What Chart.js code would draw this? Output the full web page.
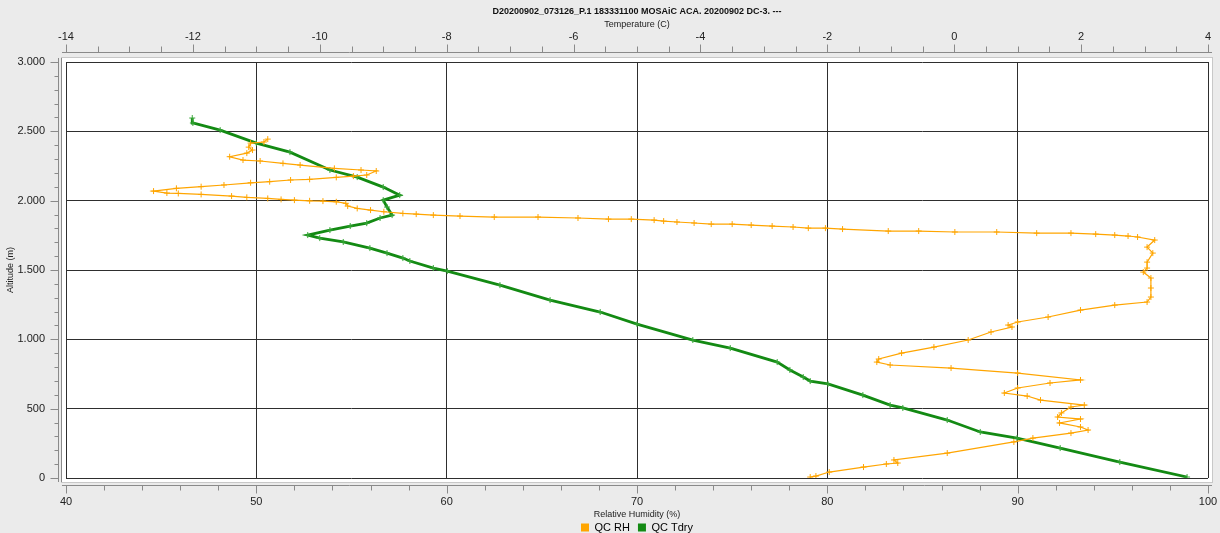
<!DOCTYPE html>
<html>
<head>
<meta charset="utf-8">
<script src="https://cdn.jsdelivr.net/npm/chart.js@4.4.1/dist/chart.umd.min.js"></script>
<style>
  html, body { margin: 0; padding: 0; background: #ebebeb; overflow: hidden; }
  #wrap { width: 1220px; height: 533px; overflow: hidden; }
  canvas { display: block; }
</style>
</head>
<body>
<div id="wrap"><canvas id="sounding" width="1220" height="543"></canvas></div>
<script>
// Dropsonde profile: relative humidity and dry-bulb temperature versus altitude
const chartTitle = 'D20200902_073126_P.1 183331100 MOSAiC ACA. 20200902 DC-3. ---';
const seriesNames = ['QC RH', 'QC Tdry'];

// Altitude ticks (m), relative humidity ticks (%), temperature ticks (C)
const altitudeTicks = [0, 500, 1000, 1500, 2000, 2500, 3000];
const humidityTicks = [40, 50, 60, 70, 80, 90, 100];
const temperatureTicks = [-14, -12, -10, -8, -6, -4, -2, 0, 2, 4];

// QC RH: altitude (m) and relative humidity (%)
const rhAltitude = [
  7, 14, 43, 79, 101, 108, 130, 180, 260, 288, 324, 346, 368, 397, 425, 440, 469, 512, 526, 562,
  591, 613, 649, 685, 707, 757, 793, 815, 836, 858, 901, 944, 995, 1053, 1089, 1103, 1125, 1161, 1211, 1247,
  1269, 1305, 1370, 1442, 1485, 1514, 1557, 1622, 1665, 1716, 1738, 1745, 1752, 1759, 1766, 1766, 1774, 1774, 1781, 1781,
  1795, 1802, 1802, 1810, 1817, 1824, 1831, 1831, 1839, 1846, 1853, 1860, 1867, 1867, 1875, 1882, 1882, 1889, 1896, 1903,
  1908, 1920, 1932, 1944, 1961, 1981, 1992, 1997, 1999, 2004, 2009, 2016, 2024, 2033, 2045, 2052, 2055, 2069, 2089, 2101,
  2113, 2129, 2137, 2149, 2154, 2168, 2177, 2185, 2214, 2221, 2233, 2257, 2269, 2286, 2293, 2317, 2343, 2365, 2386, 2415,
  2423, 2444
];
const rhPercent = [
  79.1, 79.4, 80.1, 81.9, 83.1, 83.7, 83.5, 86.3, 89.8, 90.8, 92.8, 93.7, 93.3, 92.2, 93.3, 92.1, 92.3, 92.8, 93.5, 91.2,
  90.5, 89.3, 90.0, 91.7, 93.3, 90.0, 86.5, 83.3, 82.6, 82.7, 83.9, 85.6, 87.4, 88.6, 89.7, 89.5, 90.0, 91.6, 93.3, 95.1,
  96.8, 97.0, 97.0, 97.0, 96.6, 96.8, 96.8, 97.1, 96.8, 97.2, 96.3, 95.8, 95.1, 94.1, 92.8, 91.0, 88.9, 86.7, 84.8, 83.2,
  80.8, 79.9, 79.0, 78.2, 77.1, 76.0, 75.0, 73.9, 73.0, 72.1, 71.4, 70.9, 69.7, 68.5, 66.9, 64.8, 62.5, 60.7, 59.3, 58.4,
  57.7, 56.7, 56.0, 55.3, 54.8, 54.7, 54.2, 53.5, 52.8, 52.0, 51.3, 50.6, 49.5, 48.7, 47.1, 45.9, 45.3, 44.6, 45.8, 47.1,
  48.3, 49.7, 50.7, 51.8, 52.8, 54.2, 55.1, 55.8, 56.3, 55.5, 54.1, 52.3, 51.4, 50.2, 49.3, 48.6, 49.5, 49.8, 49.6, 49.7,
  50.4, 50.6
];

// QC Tdry: altitude (m) and temperature (C)
const tdryAltitude = [
  7, 115, 216, 288, 332, 418, 505, 526, 598, 678, 699, 728, 779, 836, 937, 995, 1110, 1197, 1283, 1391,
  1492, 1514, 1565, 1586, 1622, 1658, 1702, 1730, 1752, 1788, 1817, 1838, 1875, 1896, 1954, 2004, 2040, 2098, 2170, 2221,
  2350, 2415, 2509, 2560, 2596
];
const tdryCelsius = [
  3.67, 2.61, 1.67, 0.99, 0.41, -0.11, -0.81, -1.01, -1.44, -1.99, -2.27, -2.38, -2.59, -2.79, -3.53, -4.12, -5.00, -5.58, -6.37, -7.16,
  -7.99, -8.21, -8.58, -8.69, -8.94, -9.21, -9.63, -10.00, -10.19, -9.84, -9.52, -9.26, -9.05, -8.86, -8.94, -9.00, -8.74, -9.00, -9.41, -9.84,
  -10.47, -11.00, -11.57, -12.00, -12.01
];

const rhColor = '#ffa500';
const tdryColor = '#138a13';
const gridColor = '#2e2e2e';
const textColor = '#222222';
const fontFamily = '"Liberation Sans", Arial, Helvetica, sans-serif';

const toPoints = (xs, ys) => xs.map((x, i) => ({ x: x, y: ys[i] }));
const groupThousands = v => String(v).replace(/\B(?=(\d{3})+(?!\d))/g, '.');
const fixTicks = list => scale => { scale.ticks = list.map(v => ({ value: v })); };

// Gray page, white plotting panel and the detached tick strips around it
const axisStrips = {
  id: 'axisStrips',
  beforeDraw(chart) {
    const { ctx, chartArea: a } = chart;
    ctx.save();
    ctx.fillStyle = '#ebebeb';
    ctx.fillRect(0, 0, chart.width, chart.height);
    ctx.fillStyle = '#ffffff';
    ctx.fillRect(a.left - 4, a.top - 4, a.right - a.left + 8, a.bottom - a.top + 8);
    ctx.strokeStyle = '#c8c8c8';
    ctx.lineWidth = 1;
    ctx.strokeRect(a.left - 4.5, a.top - 4.5, a.right - a.left + 9, a.bottom - a.top + 9);
    ctx.restore();
  },
  afterDraw(chart) {
    const { ctx, chartArea: a, scales } = chart;
    const line = (x1, y1, x2, y2) => { ctx.beginPath(); ctx.moveTo(x1, y1); ctx.lineTo(x2, y2); ctx.stroke(); };
    ctx.save();
    ctx.strokeStyle = '#8a8a8a';
    ctx.lineWidth = 1;

    // altitude strip, left
    const lx = Math.round(a.left) - 8 + 0.5;
    line(lx, a.top - 4, lx, a.bottom + 4);
    line(lx + 3, a.top - 4, lx + 3, a.bottom + 4);
    for (let v = 0; v <= 3000; v += 100) {
      const y = Math.round(scales.y.getPixelForValue(v)) + 0.5;
      line(lx - (v % 500 === 0 ? 8 : 4), y, lx, y);
    }

    // relative humidity strip, bottom
    const by = Math.round(a.bottom) + 7 + 0.5;
    line(a.left - 4, by, a.right + 4, by);
    for (let v = 40; v <= 100; v += 2) {
      const x = Math.round(scales.x.getPixelForValue(v)) + 0.5;
      line(x, by, x, by + (v % 10 === 0 ? 8 : 5));
    }

    // temperature strip, top
    const ty = Math.round(a.top) - 10 + 0.5;
    line(a.left - 4, ty, a.right + 4, ty);
    for (let v = -14; v <= 4.001; v += 0.5) {
      const x = Math.round(scales.x2.getPixelForValue(v)) + 0.5;
      line(x, ty, x, ty - (Math.abs(v % 2) < 1e-6 ? 8 : 6));
    }
    ctx.restore();
  }
};

Chart.defaults.font.family = fontFamily;
Chart.defaults.color = textColor;

new Chart(document.getElementById('sounding'), {
  type: 'scatter',
  data: {
    datasets: [
      {
        label: seriesNames[0],
        data: toPoints(rhPercent, rhAltitude),
        xAxisID: 'x',
        yAxisID: 'y',
        showLine: true,
        borderColor: rhColor,
        backgroundColor: rhColor,
        borderWidth: 1.2,
        pointStyle: 'cross',
        pointRadius: 3,
        pointBorderWidth: 1,
        pointBorderColor: rhColor,
        tension: 0
      },
      {
        label: seriesNames[1],
        data: toPoints(tdryCelsius, tdryAltitude),
        xAxisID: 'x2',
        yAxisID: 'y',
        showLine: true,
        borderColor: tdryColor,
        backgroundColor: tdryColor,
        borderWidth: 2.8,
        pointStyle: 'cross',
        pointRadius: 3,
        pointBorderWidth: 1,
        pointBorderColor: '#3aa83a',
        tension: 0
      }
    ]
  },
  options: {
    responsive: false,
    animation: false,
    devicePixelRatio: 1,
    layout: { padding: { left: 0, right: 12, top: 0, bottom: 0 } },
    plugins: {
      title: {
        display: true,
        text: chartTitle,
        fullSize: false,
        color: '#111',
        font: { size: 9, weight: 'bold' },
        padding: { top: 6, bottom: 2 }
      },
      legend: {
        position: 'bottom',
        fullSize: false,
        labels: {
          boxWidth: 8,
          boxHeight: 8,
          padding: 8,
          color: textColor,
          font: { size: 11 },
          generateLabels: chart => chart.data.datasets.map((ds, i) => ({
            text: ds.label,
            fillStyle: ds.borderColor,
            strokeStyle: ds.borderColor,
            lineWidth: 0,
            hidden: false,
            datasetIndex: i
          }))
        }
      },
      tooltip: { enabled: false }
    },
    scales: {
      x: {
        type: 'linear',
        position: 'bottom',
        min: humidityTicks[0],
        max: humidityTicks[humidityTicks.length - 1],
        afterBuildTicks: fixTicks(humidityTicks),
        grid: { color: gridColor, lineWidth: 1, drawTicks: false },
        border: { display: false },
        ticks: { padding: 17, font: { size: 11 }, color: textColor, maxRotation: 0 },
        title: { display: true, text: 'Relative Humidity (%)', font: { size: 9 }, color: textColor, padding: { top: 0, bottom: -6 } },
        afterFit: s => { s.height = 36; s.paddingLeft = 0; s.paddingRight = 0; }
      },
      x2: {
        type: 'linear',
        position: 'top',
        min: temperatureTicks[0],
        max: temperatureTicks[temperatureTicks.length - 1],
        afterBuildTicks: fixTicks(temperatureTicks),
        grid: { display: false, drawTicks: false },
        border: { display: false },
        ticks: { padding: 18, font: { size: 11 }, color: textColor, maxRotation: 0, callback: v => String(v) },
        title: { display: true, text: 'Temperature (C)', font: { size: 9 }, color: textColor, padding: { top: 0, bottom: 0 } },
        afterFit: s => { s.height = 43.2; s.paddingLeft = 0; s.paddingRight = 0; }
      },
      y: {
        type: 'linear',
        position: 'left',
        min: altitudeTicks[0],
        max: altitudeTicks[altitudeTicks.length - 1],
        afterBuildTicks: fixTicks(altitudeTicks),
        grid: { color: gridColor, lineWidth: 1, drawTicks: false },
        border: { display: false },
        ticks: { padding: 21, font: { size: 11 }, color: textColor, callback: v => groupThousands(v) },
        title: { display: true, text: 'Altitude (m)', font: { size: 9 }, color: textColor, padding: { top: 5, bottom: 0 } },
        afterFit: s => { s.width = 66; s.paddingTop = 0; s.paddingBottom = 0; }
      }
    }
  },
  plugins: [axisStrips]
});
</script>
</body>
</html>
